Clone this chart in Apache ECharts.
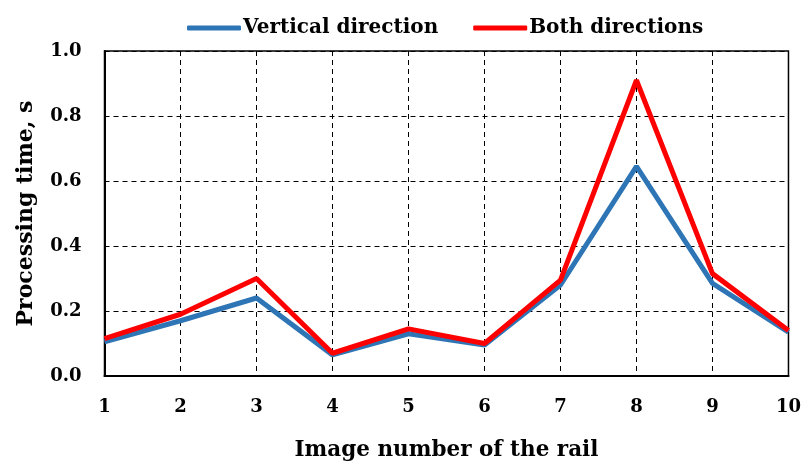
<!DOCTYPE html>
<html><head><meta charset="utf-8">
<script src="https://cdn.jsdelivr.net/npm/echarts@6/dist/echarts.min.js"></script>
<style>html,body{margin:0;padding:0;background:#fff}#c{width:804px;height:466px}</style>
</head><body><div id="c"></div>
<script>
const categories = ['1','2','3','4','5','6','7','8','9','10'];
const vertical = [0.105, 0.17, 0.24, 0.065, 0.13, 0.095, 0.28, 0.645, 0.285, 0.135];
const both = [0.115, 0.19, 0.30, 0.07, 0.145, 0.10, 0.295, 0.91, 0.315, 0.14];
const seriesNames = ['Vertical direction', 'Both directions'];
const FONT = '"DejaVu Serif", serif';
const chart = echarts.init(document.getElementById('c'));
chart.setOption({
  animation: false,
  backgroundColor: '#fff',
  grid: { left: 104.5, right: 11.5, top: 51, bottom: 89.5, show: true, borderColor: '#000', borderWidth: 1.5, backgroundColor: 'transparent' },
  legend: {
    top: 13, left: 182, itemWidth: 54, itemHeight: 5, itemGap: 35,
    textStyle: { fontFamily: FONT, fontWeight: 'bold', fontSize: 20, color: '#000', padding: [0,0,0,-3] },
    icon: 'roundRect',
    data: seriesNames
  },
  xAxis: {
    type: 'category', data: categories, boundaryGap: false,
    name: 'Image number of the rail', nameLocation: 'middle', nameGap: 63,
    nameTextStyle: { fontFamily: FONT, fontWeight: 'bold', fontSize: 21.5, color: '#000' },
    axisLine: { lineStyle: { color: '#000', width: 2 } },
    axisTick: { show: false },
    axisLabel: { fontFamily: FONT, fontWeight: 'bold', fontSize: 18, color: '#000', margin: 22 },
    splitLine: { show: true, lineStyle: { color: '#000', type: [5,4], width: 1 } }
  },
  yAxis: {
    type: 'value', min: 0, max: 1.0, interval: 0.2,
    name: 'Processing time, s', nameLocation: 'middle', nameGap: 67, nameRotate: 90,
    nameTextStyle: { fontFamily: FONT, fontWeight: 'bold', fontSize: 22, color: '#000' },
    axisLine: { show: true, lineStyle: { color: '#000', width: 2 } },
    axisTick: { show: false },
    axisLabel: { fontFamily: FONT, fontWeight: 'bold', fontSize: 18, color: '#000', margin: 23, formatter: v => v.toFixed(1) },
    splitLine: { show: true, lineStyle: { color: '#000', type: [5,4], width: 1 } }
  },
  series: [
    { name: seriesNames[0], type: 'line', data: vertical, symbol: 'none', lineStyle: { color: '#2E75B6', width: 5 }, itemStyle: { color: '#2E75B6' } },
    { name: seriesNames[1], type: 'line', data: both, symbol: 'none', lineStyle: { color: '#FF0000', width: 5 }, itemStyle: { color: '#FF0000' } }
  ]
});
</script></body></html>
